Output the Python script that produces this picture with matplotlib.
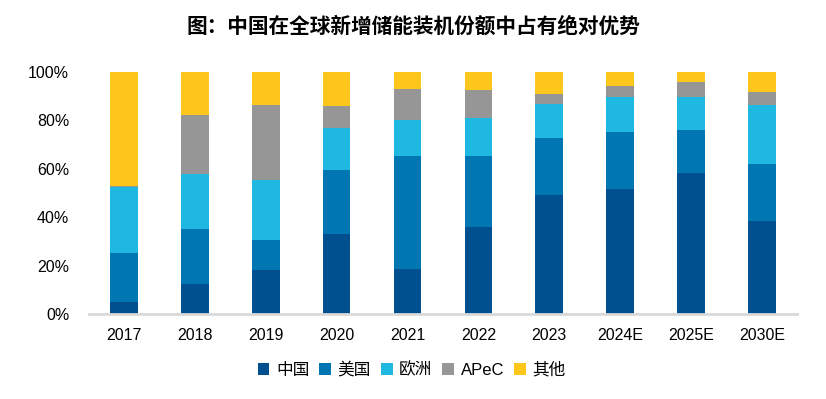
import matplotlib
matplotlib.use("Agg")
import matplotlib.pyplot as plt
import numpy as np

plt.rcParams['font.family'] = ['Liberation Sans', 'Noto Sans CJK SC', 'DejaVu Sans']

categories = ['2017', '2018', '2019', '2020', '2021', '2022', '2023', '2024E', '2025E', '2030E']
series_names = ['中国', '美国', '欧洲', 'APeC', '其他']
china = [5.0, 12.4, 18.2, 33.1, 18.6, 36.0, 49.2, 51.7, 58.3, 38.4]
usa = [20.3, 22.7, 12.4, 26.4, 46.7, 29.3, 23.5, 23.5, 17.7, 23.6]
europe = [27.2, 22.9, 24.9, 17.4, 14.9, 15.8, 14.1, 14.6, 13.8, 24.4]
apec = [0.3, 24.2, 30.9, 9.0, 12.8, 11.5, 4.1, 4.4, 6.1, 5.3]
others = [47.2, 17.8, 13.6, 14.1, 7.0, 7.4, 9.1, 5.8, 4.1, 8.3]
colors = ['#00508F', '#0077B3', '#1FB8E0', '#969696', '#FFC71C']

fig = plt.figure(figsize=(8.26, 3.99), dpi=100)
ax = fig.add_axes([0.1073, 0.213, 0.858, 0.6065])

x = np.arange(len(categories))
bottom = np.zeros(len(categories))
for name, vals, c in zip(series_names, [china, usa, europe, apec, others], colors):
    vals = np.array(vals)
    ax.bar(x, vals, 0.39, bottom=bottom, color=c, label=name, linewidth=0)
    bottom += vals

ax.set_xlim(-0.5, len(categories) - 0.5)
ax.set_ylim(0, 100)
ax.set_yticks(np.arange(0, 101, 20))
ax.set_yticklabels([f'{v}%' for v in range(0, 101, 20)])
ax.set_xticks(x)
ax.set_xticklabels(categories)
ax.tick_params(axis='both', length=0, labelsize=11.5, colors='#000000')
ax.tick_params(axis='y', pad=14)
ax.tick_params(axis='x', pad=10)
for s in ['top', 'right', 'left']:
    ax.spines[s].set_visible(False)
ax.spines['bottom'].set_color('#D9D9D9')
ax.spines['bottom'].set_linewidth(2)

fig.text(0.5, 0.935, '图：中国在全球新增储能装机份额中占有绝对优势', ha='center', va='center',
         fontsize=14.9, fontweight='bold', family=['Noto Sans CJK SC', 'DejaVu Sans'])

leg = ax.legend(loc='center', bbox_to_anchor=(0.456, -0.23), ncol=5, frameon=False,
                handlelength=0.7, handleheight=0.7, handletextpad=0.4, columnspacing=0.6,
                prop={'family': ['Liberation Sans', 'Noto Sans CJK SC'], 'size': 12})

fig.savefig('out.png', dpi=100)
